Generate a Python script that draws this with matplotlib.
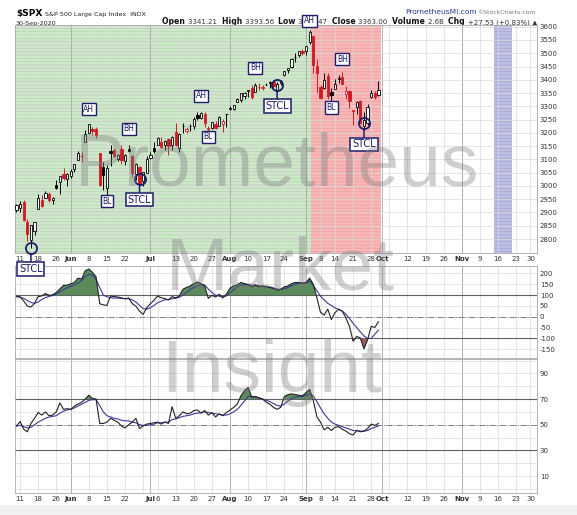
import numpy as np
import pandas as pd
import matplotlib
matplotlib.use("Agg")
import matplotlib.pyplot as plt
from matplotlib.patches import Rectangle

# ------------------------------------------------------------
# Daily OHLC for $SPX, 8-May-2020 .. 30-Sep-2020
# ------------------------------------------------------------
opens = [2908.83, 2915.46, 2939.50, 2865.86, 2794.54, 2829.95, 2913.86, 2948.59, 2953.63, 2969.95,
         2948.05, 3004.08, 3015.65, 3046.61, 3025.17, 3038.78, 3064.78, 3098.90, 3111.56, 3163.84,
         3199.92, 3213.32, 3213.42, 3123.53, 3071.04, 2993.76, 3131.00, 3136.13, 3101.64, 3140.29,
         3094.42, 3138.70, 3114.40, 3046.60, 3073.20, 3018.59, 3050.20, 3105.92, 3143.64, 3155.29,
         3166.44, 3153.07, 3176.17, 3152.47, 3205.08, 3141.11, 3225.98, 3208.36, 3224.21, 3224.29,
         3268.52, 3254.86, 3271.64, 3218.58, 3219.84, 3234.27, 3227.22, 3231.76, 3270.45, 3288.26,
         3289.92, 3317.37, 3323.17, 3340.05, 3356.04, 3370.34, 3355.46, 3372.95, 3368.66, 3380.86,
         3387.04, 3392.51, 3360.48, 3386.01, 3418.09, 3435.95, 3449.97, 3485.14, 3494.69, 3509.73,
         3507.44, 3543.76, 3564.74, 3453.60, 3371.88, 3369.82, 3412.56, 3352.70, 3363.56, 3407.73,
         3411.23, 3346.86, 3357.38, 3285.57, 3295.75, 3320.11, 3226.14, 3236.66, 3333.90, 3350.92,
         3341.21]
highs = [2932.16, 2944.25, 2945.82, 2874.14, 2852.80, 2865.01, 2968.09, 2964.21, 2980.29, 2978.50,
         2956.76, 3021.72, 3036.25, 3068.67, 3049.17, 3062.18, 3081.07, 3130.94, 3128.91, 3211.72,
         3233.13, 3222.71, 3223.27, 3123.53, 3088.42, 3079.76, 3153.45, 3141.16, 3120.00, 3155.53,
         3120.92, 3154.90, 3115.01, 3086.25, 3073.73, 3053.89, 3111.51, 3128.44, 3165.81, 3182.59,
         3184.15, 3171.80, 3179.78, 3186.82, 3235.32, 3200.95, 3238.28, 3220.39, 3233.52, 3258.61,
         3277.29, 3279.32, 3279.99, 3227.26, 3241.43, 3243.72, 3264.74, 3250.92, 3272.17, 3302.73,
         3306.84, 3330.77, 3351.03, 3352.54, 3363.29, 3381.01, 3387.89, 3387.24, 3378.51, 3387.59,
         3395.06, 3399.54, 3390.80, 3399.96, 3432.09, 3444.21, 3481.07, 3501.38, 3509.23, 3514.77,
         3528.03, 3588.11, 3564.85, 3479.15, 3379.97, 3424.77, 3425.55, 3368.95, 3402.93, 3419.48,
         3428.92, 3375.17, 3362.27, 3285.57, 3320.31, 3323.35, 3278.70, 3306.88, 3360.74, 3357.92,
         3393.56]
lows = [2902.88, 2903.44, 2869.59, 2793.15, 2766.64, 2816.78, 2913.86, 2922.35, 2953.63, 2938.57,
        2933.59, 2988.17, 2969.75, 3023.40, 2998.61, 3031.54, 3051.64, 3098.90, 3090.41, 3163.84,
        3196.00, 3193.11, 3181.49, 2999.49, 2984.47, 2965.66, 3076.06, 3108.03, 3093.51, 3083.11,
        3079.39, 3127.12, 3032.13, 3024.01, 3004.63, 2999.74, 3047.83, 3101.17, 3124.52, 3155.29,
        3142.93, 3136.53, 3115.70, 3136.22, 3149.43, 3127.66, 3200.76, 3198.59, 3205.65, 3215.16,
        3247.77, 3253.10, 3222.66, 3200.05, 3214.25, 3216.17, 3227.22, 3204.13, 3220.26, 3284.53,
        3286.37, 3317.37, 3318.14, 3328.72, 3335.44, 3326.44, 3355.46, 3363.35, 3361.64, 3379.22,
        3370.15, 3369.66, 3354.69, 3379.31, 3413.13, 3425.84, 3444.15, 3468.35, 3484.32, 3493.25,
        3494.60, 3535.23, 3427.41, 3349.63, 3329.27, 3366.84, 3329.25, 3310.47, 3363.56, 3389.25,
        3384.45, 3328.82, 3292.40, 3229.10, 3270.95, 3232.57, 3209.45, 3228.44, 3332.91, 3327.54,
        3340.47]
closes = [2929.80, 2930.19, 2870.12, 2820.00, 2852.50, 2863.70, 2953.91, 2922.94, 2971.61, 2948.51,
          2955.45, 2991.77, 3036.13, 3029.73, 3044.31, 3055.73, 3080.82, 3122.87, 3112.35, 3193.93,
          3232.39, 3207.18, 3190.14, 3002.10, 3041.31, 3066.59, 3124.74, 3113.49, 3115.34, 3097.74,
          3117.86, 3131.29, 3050.33, 3083.76, 3009.05, 3053.24, 3100.29, 3115.86, 3130.01, 3179.72,
          3145.32, 3169.94, 3152.05, 3185.04, 3155.22, 3197.52, 3226.56, 3215.57, 3224.73, 3251.84,
          3257.30, 3276.02, 3235.66, 3215.63, 3239.41, 3218.44, 3258.44, 3246.22, 3271.12, 3294.61,
          3306.51, 3327.77, 3349.16, 3351.28, 3360.47, 3333.69, 3380.35, 3373.43, 3372.85, 3381.99,
          3389.78, 3374.85, 3385.51, 3397.16, 3431.28, 3443.62, 3478.73, 3484.55, 3508.01, 3500.31,
          3526.65, 3580.84, 3455.06, 3426.96, 3331.84, 3398.96, 3339.19, 3340.97, 3383.54, 3401.20,
          3385.49, 3357.01, 3319.47, 3281.06, 3315.57, 3236.92, 3246.59, 3298.46, 3351.60, 3335.47,
          3363.00]

# CCI (black) and its signal line (blue)
cci = [95, 92, 73, 49, 45, 62, 93, 96, 107, 99,
       101, 112, 128, 145, 145, 152, 158, 178, 174, 212,
       220, 205, 184, 60, 55, 52, 96, 93, 91, 87,
       82, 87, 60, 49, 26, 11, 42, 60, 76, 96,
       87, 84, 77, 93, 87, 96, 127, 135, 142, 153,
       160, 153, 142, 85, 99, 91, 104, 87, 104, 132,
       142, 147, 158, 153, 147, 138, 147, 138, 142, 138,
       135, 130, 122, 127, 138, 142, 153, 158, 158, 155,
       158, 178, 150, 87, 20, 8, 35, -13, 19, 35,
       26, -5, -44, -113, -90, -98, -148, -106, -44, -49,
       -23]
cci_signal = [92, 90, 85, 75, 66, 62, 68, 80, 88, 94,
              98, 105, 115, 125, 133, 140, 147, 155, 168, 185,
              196, 192, 172, 135, 100, 92, 88, 86, 86, 85,
              84, 83, 78, 68, 52, 38, 35, 42, 52, 65,
              72, 78, 80, 83, 86, 90, 100, 112, 125, 135,
              143, 148, 146, 128, 112, 100, 95, 92, 96, 110,
              125, 137, 145, 150, 150, 146, 145, 143, 141, 140,
              137, 133, 128, 126, 130, 135, 143, 150, 154, 155,
              155, 165, 145, 120, 95, 78, 62, 52, 41, 34,
              27, 12, -8, -30, -50, -70, -88, -100, -100, -80,
              -62]

# RSI (black) and its signal line (blue)
rsi = [49, 52.5, 46.5, 44.5, 51, 55, 59.5, 57.5, 60, 57,
       57.5, 60, 67, 62, 62.5, 62, 64.5, 66, 67.5, 70,
       73, 70.5, 70, 51, 51, 52, 55, 53.5, 52, 49,
       47.5, 50, 52, 55, 47, 49, 50.5, 51, 51.5, 52,
       50.5, 52, 51, 64, 55, 57, 60, 58.5, 59, 61,
       61.5, 59, 61, 57.5, 59.5, 56, 58.5, 57, 59.5, 61.5,
       63.5, 66, 72.5, 76.5, 79, 71.5, 72, 71, 70, 67.5,
       66, 63.5, 62, 63.5, 72, 73.5, 74, 73.5, 73, 72.5,
       75, 77.5, 69, 56, 52, 46, 48, 45.5, 48, 48.5,
       46.5, 45, 43, 42, 45.5, 44.5, 45, 47, 50.5, 49.5,
       51]
rsi_signal = [49, 49.5, 48.5, 47.5, 48, 50, 52, 53.5, 55, 56,
              56.5, 57, 59, 60.5, 61.5, 62, 63, 64.5, 66, 67.5,
              69, 69.5, 69.5, 65, 60, 57, 56, 55, 54.5, 53.5,
              53, 53, 52, 51.5, 50, 49.5, 49.5, 50, 50.5, 51.5,
              51.5, 52, 52, 54, 54.5, 55.5, 56.5, 57, 57.5, 58.5,
              59, 59.5, 60, 59.5, 59, 58.5, 58, 57.5, 57.5, 58.5,
              60, 62, 65, 68.5, 72, 72, 71.5, 71, 70, 69,
              68, 66.5, 65, 64.5, 66, 68.5, 70.5, 71.5, 72, 72,
              73, 74, 72.5, 68, 63, 58.5, 55, 52, 50.5, 49.5,
              48.5, 47.5, 46.5, 45.5, 45.5, 45, 45, 45.5, 47, 48,
              49]

# trading calendar (chart runs on into the future, out to end of November)
holidays = ["2020-05-25", "2020-07-03", "2020-09-07", "2020-11-26"]
days = pd.bdate_range("2020-05-08", "2020-11-30", freq="C", holidays=holidays)

tick_dates = ["2020-05-11", "2020-05-18", "2020-05-26", "2020-06-01", "2020-06-08", "2020-06-15",
              "2020-06-22", "2020-07-01", "2020-07-06", "2020-07-13", "2020-07-20", "2020-07-27",
              "2020-08-03", "2020-08-10", "2020-08-17", "2020-08-24", "2020-09-01", "2020-09-08",
              "2020-09-14", "2020-09-21", "2020-09-28", "2020-10-01", "2020-10-12", "2020-10-19",
              "2020-10-26", "2020-11-02", "2020-11-09", "2020-11-16", "2020-11-23", "2020-11-30"]
tick_text = ["11", "18", "26", "Jun", "8", "15", "22", "Jul", "6", "13", "20", "27", "Aug", "10",
             "17", "24", "Sep", "8", "14", "21", "28", "Oct", "12", "19", "26", "Nov", "9", "16",
             "23", "30"]
month_names = ["Jun", "Jul", "Aug", "Sep", "Oct", "Nov"]

# chart annotations: (label, date, anchor, pixel offset)
notes = [("AH", "2020-06-08", "high", 15), ("BH", "2020-06-23", "high", 16),
         ("BL", "2020-06-15", "low", -6), ("AH", "2020-07-22", "high", 16),
         ("BL", "2020-07-24", "low", -4), ("BH", "2020-08-12", "high", 15),
         ("AH", "2020-09-02", "high", 9), ("BH", "2020-09-16", "high", 13),
         ("BL", "2020-09-11", "low", -4)]
stcl = [("2020-05-14", 0), ("2020-06-26", 6), ("2020-08-20", 7), ("2020-09-24", 7)]

# ------------------------------------------------------------
# Layout helpers (pixel based, 577 x 515)
# ------------------------------------------------------------
W, H = 577, 515
RED = "#cf1b24"
NAVY = "#1c1c6b"
FONT = "DejaVu Sans"


def rect(l, t, r, b):
    return [l / W, 1 - b / H, (r - l) / W, (b - t) / H]


def pos(d):
    return days.get_loc(pd.Timestamp(d))


x = np.arange(len(closes))
o, h, l, c = (np.array(v) for v in (opens, highs, lows, closes))
X0, X1 = -0.4, 143.8

week = days.isocalendar().week.values
month = days.month.values
idx = np.arange(len(days))
weekly = idx[np.r_[False, week[1:] != week[:-1]]]
monthly = idx[np.r_[False, month[1:] != month[:-1]]]

fig = plt.figure(figsize=(W / 100, H / 100), dpi=100)
fig.patches.append(Rectangle((0, 0), 1, 10 / H, transform=fig.transFigure,
                             facecolor="#f1f1f1", edgecolor="none", zorder=-5))

ax_p = fig.add_axes(rect(15, 24.5, 537, 253))
ax_c = fig.add_axes(rect(15, 266, 537, 358))
ax_r = fig.add_axes(rect(15, 359, 537, 493))
ax_p.set_zorder(4)


def base_style(ax, labels=None):
    ax.set_xlim(X0, X1)
    ax.set_facecolor("white")
    for s in ax.spines.values():
        s.set_color("#a8a8a8")
        s.set_linewidth(0.6)
    ax.yaxis.tick_right()
    ax.tick_params(axis="both", length=0, labelsize=5, colors="#333333", pad=2)
    for v in weekly:
        ax.axvline(v, color="#dadada", lw=0.5, zorder=0.6)
    for v in monthly:
        ax.axvline(v, color="#a5a5a5", lw=0.6, zorder=0.6)
    if labels is None:
        ax.set_xticks([])
        return
    pairs = [(pos(d), t) for d, t in zip(tick_dates, labels) if t]
    ax.set_xticks([p for p, t in pairs])
    ax.set_xticklabels([t for p, t in pairs], family=FONT)
    for lab in ax.get_xticklabels():
        if lab.get_text() in month_names:
            lab.set_fontweight("bold")


# ------------------------------------------------------------
# Price panel (top axis omits the "6" under Jul)
# ------------------------------------------------------------
top_labels = ["" if t == "6" else t for t in tick_text]
base_style(ax_p, labels=top_labels)

ax_p.set_ylim(2747.3, 3608.3)
pticks = np.arange(2800, 3601, 50)
ax_p.set_yticks(pticks)
ax_p.set_yticklabels([str(v) for v in pticks], family=FONT)
for v in pticks:
    ax_p.axhline(v, color="#dadada", lw=0.5, zorder=0.6)

plt.rcParams["hatch.linewidth"] = 0.5
ax_p.axvspan(X0, pos("2020-09-02") + 0.5, facecolor="#cfe8cc", edgecolor="#b4d4b0",
             hatch="-----", lw=0, zorder=0.3)
ax_p.axvspan(pos("2020-09-02") + 0.5, pos("2020-09-30") + 0.7, facecolor="#f8b6b6",
             edgecolor="#eca2a2", hatch="-----", lw=0, zorder=0.3)
ax_p.axvspan(pos("2020-11-13") - 0.1, pos("2020-11-19") + 0.9, facecolor="#bcbde2",
             edgecolor="#a6a7d4", hatch="-----", lw=0, zorder=0.3)

prev = np.r_[o[0], c[:-1]]
edge = np.where(c >= prev, "black", RED)
face = np.where(c >= o, "white", edge)
ax_p.vlines(x, l, h, colors=edge, lw=0.7, zorder=3)
ax_p.bar(x, np.maximum(np.abs(c - o), 0.8), bottom=np.minimum(o, c), width=0.62,
         color=face, edgecolor=edge, linewidth=0.6, zorder=4)

# annotation boxes
units_per_px = (3608.3 - 2747.3) / 228.5
for label, d, anchor, off in notes:
    i = pos(d)
    yv = highs[i] if anchor == "high" else lows[i]
    ax_p.annotate(label, xy=(i, yv), xytext=(0, off * 0.72), textcoords="offset points",
                  ha="center", va="center", fontsize=5.5, color=NAVY, family=FONT,
                  bbox=dict(boxstyle="square,pad=0.22", fc="white", ec=NAVY, lw=1.0),
                  annotation_clip=False, zorder=8)

for d, off in stcl:
    i = pos(d)
    cy = lows[i] + off * units_per_px
    ax_p.plot(i, cy, marker="o", ms=8, mfc="none", mec=NAVY, mew=1.3,
              clip_on=False, zorder=8)
    ax_p.annotate("STCL", xy=(i, cy), xytext=(0, -21 * 0.72), textcoords="offset points",
                  ha="center", va="center", fontsize=7, color=NAVY, family=FONT,
                  bbox=dict(boxstyle="square,pad=0.18", fc="white", ec=NAVY, lw=1.1),
                  arrowprops=dict(arrowstyle="-", color=NAVY, lw=1.1, shrinkA=0, shrinkB=4),
                  annotation_clip=False, zorder=8)

# ------------------------------------------------------------
# CCI panel
# ------------------------------------------------------------
base_style(ax_c)
ax_c.set_ylim(-190, 234)
cticks = [-150, -100, -50, 0, 50, 100, 150, 200]
ax_c.set_yticks(cticks)
ax_c.set_yticklabels([str(v) for v in cticks], family=FONT)
for v in cticks:
    ax_c.axhline(v, color="#dadada", lw=0.5, zorder=0.6)
ax_c.axhline(100, color="#606060", lw=0.8, zorder=1)
ax_c.axhline(-100, color="#606060", lw=0.8, zorder=1)
ax_c.axhline(0, color="#808080", lw=0.7, ls="-.", zorder=1)
cc = np.array(cci, dtype=float)
ax_c.fill_between(x, cc, 100, where=cc > 100, interpolate=True, color="#5b8a5b", lw=0, zorder=2)
ax_c.fill_between(x, cc, -100, where=cc < -100, interpolate=True, color="#a25a62", lw=0, zorder=2)
ax_c.plot(x, cci_signal, color="#3a3a9a", lw=0.8, zorder=3)
ax_c.plot(x, cci, color="#222222", lw=0.8, zorder=4)

# ------------------------------------------------------------
# RSI panel
# ------------------------------------------------------------
base_style(ax_r, labels=tick_text)
ax_r.set_ylim(-3.2, 101.2)
ax_r.set_yticks([10, 30, 50, 70, 90])
ax_r.set_yticklabels(["10", "30", "50", "70", "90"], family=FONT)
for v in range(0, 101, 10):
    ax_r.axhline(v, color="#dadada", lw=0.5, zorder=0.6)
ax_r.axhline(70, color="#606060", lw=0.8, zorder=1)
ax_r.axhline(30, color="#606060", lw=0.8, zorder=1)
ax_r.axhline(50, color="#808080", lw=0.7, ls="-.", zorder=1)
rr = np.array(rsi, dtype=float)
ax_r.fill_between(x, rr, 70, where=rr > 70, interpolate=True, color="#5b8a5b", lw=0, zorder=2)
ax_r.fill_between(x, rr, 30, where=rr < 30, interpolate=True, color="#a25a62", lw=0, zorder=2)
ax_r.plot(x, rsi_signal, color="#3a3a9a", lw=0.8, zorder=3)
ax_r.plot(x, rsi, color="#222222", lw=0.8, zorder=4)

# ------------------------------------------------------------
# Header
# ------------------------------------------------------------
def fx(px):
    return px / W


def fy(py):
    return 1 - py / H


fig.text(fx(16), fy(16), "$SPX", fontsize=6.5, fontweight="bold", family=FONT, va="baseline")
fig.text(fx(45), fy(16), "S&P 500 Large Cap Index  INDX", fontsize=4.6, family=FONT,
         va="baseline", color="#222222")
fig.text(fx(16), fy(24.5), "30-Sep-2020", fontsize=4.6, family=FONT, va="baseline",
         color="#222222")
fig.text(fx(405), fy(14.5), "PrometheusMI.com", fontsize=5.4, family=FONT, va="baseline",
         color="#2b3c8f")
fig.text(fx(477), fy(14.5), "\u00a9StockCharts.com", fontsize=4.4, family=FONT, va="baseline",
         color="#777777")

chg = closes[-1] - closes[-2]
pct = chg / closes[-2] * 100
pieces = [("Open ", True), ("%.2f  " % opens[-1], False), ("High ", True),
          ("%.2f  " % highs[-1], False), ("Low ", True), ("%.2f  " % lows[-1], False),
          ("Close ", True), ("%.2f  " % closes[-1], False), ("Volume ", True),
          ("2.6B  ", False), ("Chg ", True), ("%+.2f (%+.2f%%) \u25b2" % (chg, pct), False)]
renderer = fig.canvas.get_renderer()
items = []
total = 0
for txt, bold in pieces:
    t = fig.text(0, fy(24.5), txt, fontsize=5.6 if bold else 5.0,
                 fontweight="bold" if bold else "normal", family=FONT, va="baseline",
                 color="#111111" if bold else "#333333")
    wpx = t.get_window_extent(renderer).width
    items.append((t, wpx))
    total += wpx
start = 537 - total
for t, wpx in items:
    t.set_x(fx(start))
    start += wpx

# ------------------------------------------------------------
# Watermark
# ------------------------------------------------------------
for word, cx, base in [("Prometheus", 277, 186), ("Market", 280, 289), ("Insight", 272, 392)]:
    fig.text(fx(cx), fy(base), word, fontsize=54, family="Liberation Sans", color="#7a7a7a",
             alpha=0.36, ha="center", va="baseline", zorder=10)

fig.savefig("out.png", dpi=100)
